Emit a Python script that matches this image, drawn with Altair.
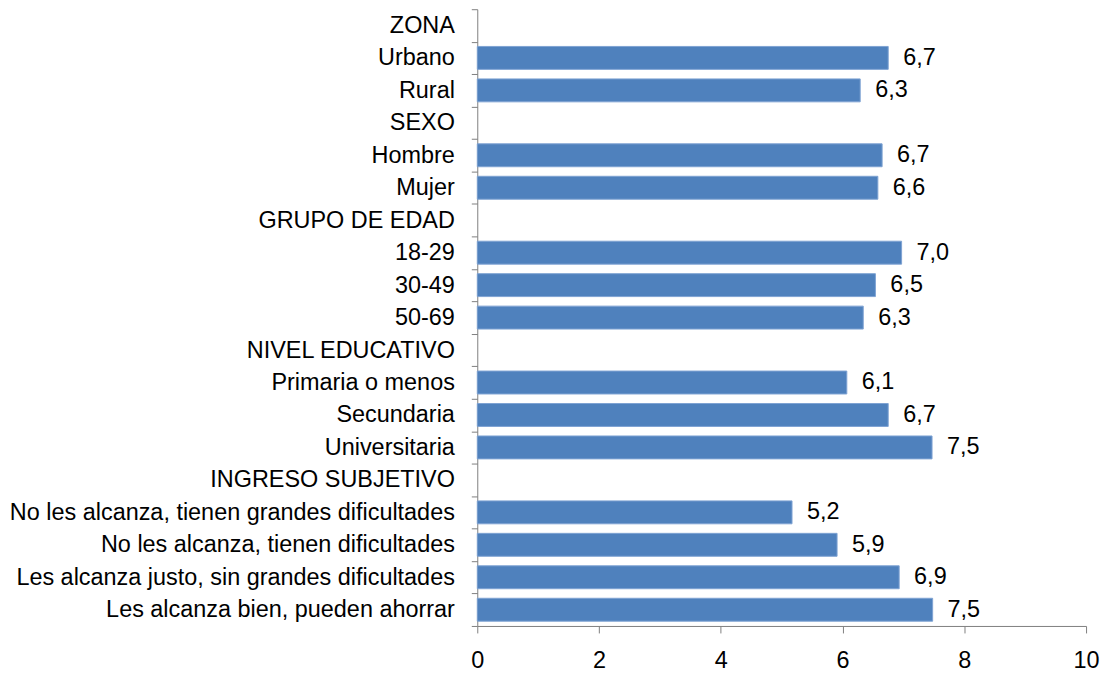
import altair as alt
import pandas as pd

categories = [
    "ZONA", "Urbano", "Rural",
    "SEXO", "Hombre", "Mujer",
    "GRUPO DE EDAD", "18-29", "30-49", "50-69",
    "NIVEL EDUCATIVO", "Primaria o menos", "Secundaria", "Universitaria",
    "INGRESO SUBJETIVO",
    "No les alcanza, tienen grandes dificultades",
    "No les alcanza, tienen dificultades",
    "Les alcanza justo, sin grandes dificultades",
    "Les alcanza bien, pueden ahorrar",
]

bar_categories = [
    "Urbano", "Rural", "Hombre", "Mujer", "18-29", "30-49", "50-69",
    "Primaria o menos", "Secundaria", "Universitaria",
    "No les alcanza, tienen grandes dificultades",
    "No les alcanza, tienen dificultades",
    "Les alcanza justo, sin grandes dificultades",
    "Les alcanza bien, pueden ahorrar",
]
values = [6.75, 6.29, 6.65, 6.58, 6.97, 6.54, 6.34, 6.07, 6.75, 7.47, 5.17, 5.91, 6.93, 7.48]
labels = ["6,7", "6,3", "6,7", "6,6", "7,0", "6,5", "6,3", "6,1", "6,7", "7,5", "5,2", "5,9", "6,9", "7,5"]
x_ticks = [0, 2, 4, 6, 8, 10]

df = pd.DataFrame({"cat": bar_categories, "value": values, "label": labels})

FONT = "Liberation Sans"
FS = 23.5
AXIS_COLOR = "#808080"

y_enc = alt.Y(
    "cat:N",
    scale=alt.Scale(domain=categories, paddingInner=0, paddingOuter=0),
    axis=alt.Axis(
        title=None,
        tickBand="extent",
        tickSize=6,
        tickColor=AXIS_COLOR,
        domainColor=AXIS_COLOR,
        labelPadding=17,
        labelFont=FONT,
        labelFontSize=FS,
        labelColor="black",
        labelLimit=0,
    ),
)

x_enc = alt.X(
    "value:Q",
    scale=alt.Scale(domain=[0, 10], nice=False),
    axis=alt.Axis(
        title=None,
        values=x_ticks,
        format="d",
        grid=False,
        labelFlush=False,
        tickSize=7,
        tickColor=AXIS_COLOR,
        domainColor=AXIS_COLOR,
        labelPadding=16,
        labelFont=FONT,
        labelFontSize=FS,
        labelColor="black",
    ),
)

bars = alt.Chart(df).mark_bar(
    size=23, color="#4F81BD", stroke="#7EA3D3", strokeWidth=1
).encode(x=x_enc, y=y_enc)

text = alt.Chart(df).mark_text(
    align="left", baseline="middle", dx=15, font=FONT, fontSize=FS, color="black"
).encode(x="value:Q", y=alt.Y("cat:N"), text="label:N")

chart = (
    alt.layer(bars, text)
    .properties(
        width=611,
        height=619,
        autosize=alt.AutoSizeParams(type="none"),
        padding={"left": 471, "top": 0, "right": 15, "bottom": 50},
    )
    .configure(background="white")
    .configure_view(strokeWidth=0, stroke="transparent")
)

chart.save("out.html", embed_options={"renderer": "svg", "actions": False})
